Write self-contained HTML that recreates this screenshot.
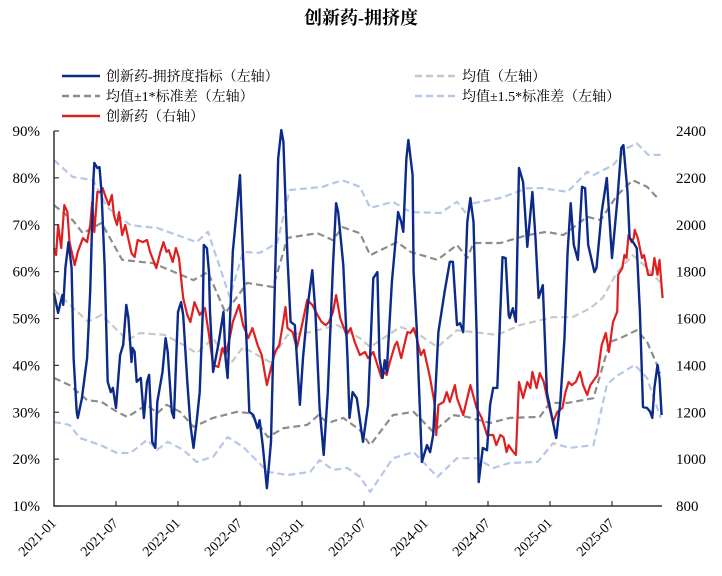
<!DOCTYPE html>
<html><head><meta charset="utf-8">
<style>
html,body{margin:0;padding:0;background:#fff;}
svg{display:block;font-family:"Liberation Serif","Noto Serif CJK SC",serif;}
</style></head>
<body>
<svg id="chart" width="722" height="576" viewBox="0 0 722 576">
<text x="361" y="24" text-anchor="middle" font-size="18" font-weight="bold" font-family="'Liberation Serif','Noto Serif CJK SC',serif">创新药-拥挤度</text>
<g font-size="14">
 <g><line x1="62" y1="76" x2="100" y2="76" stroke="#0b2a8a" stroke-width="2.5"/><text x="106" y="81">创新药-拥挤度指标（左轴）</text></g>
 <g><line x1="415" y1="76" x2="455" y2="76" stroke="#c8c8c8" stroke-width="2.5" stroke-dasharray="7,4"/><text x="462" y="81">均值（左轴）</text></g>
 <g><line x1="62" y1="96" x2="100" y2="96" stroke="#8c8c8c" stroke-width="2.5" stroke-dasharray="7,4"/><text x="106" y="101">均值±1*标准差（左轴）</text></g>
 <g><line x1="415" y1="96" x2="455" y2="96" stroke="#b4c7ea" stroke-width="2.5" stroke-dasharray="7,4"/><text x="462" y="101">均值±1.5*标准差（左轴）</text></g>
 <g><line x1="62" y1="116" x2="100" y2="116" stroke="#e02020" stroke-width="2.5"/><text x="106" y="121">创新药（右轴）</text></g>
</g>
<g id="plot"></g>
</svg>
<script>
const xTickLabels=["2021-01","2021-07","2022-01","2022-07","2023-01","2023-07","2024-01","2024-07","2025-01","2025-07"];
const leftTicks=[10,20,30,40,50,60,70,80,90];
const rightTicks=[800,1000,1200,1400,1600,1800,2000,2200,2400];
// months since 2021-01 / values
const blueT=[0,.4,.8,.9,1.1,1.4,1.7,1.9,2.2,2.3,2.7,3.2,3.5,3.8,3.9,4.2,4.4,4.6,4.9,5.2,5.5,5.7,6.0,6.4,6.7,7.0,7.2,7.5,7.6,7.8,8.0,8.4,8.7,9.0,9.2,9.5,9.8,10.0,10.5,10.8,11.0,11.4,11.6,12.0,12.3,12.5,12.9,13.2,13.5,13.8,14.1,14.4,14.5,14.8,15.0,15.1,15.4,15.9,16.4,16.6,16.8,17.3,18.0,18.3,18.7,18.9,19.3,19.7,19.9,20.2,20.6,21.0,21.4,21.7,22.0,22.2,22.6,22.9,23.3,23.8,24.1,24.6,25.0,25.3,25.7,26.1,26.5,27.0,27.3,27.5,28.0,28.4,28.6,28.9,29.3,29.9,30.4,30.9,31.3,31.5,31.8,32.0,32.2,32.7,33.3,33.6,33.8,34.1,34.3,34.7,34.8,35.1,35.6,36.1,36.4,36.7,37.2,37.8,38.3,38.6,39.0,39.3,39.6,40.0,40.3,40.6,40.9,41.1,41.5,41.9,42.2,42.5,42.9,43.4,43.7,44.0,44.1,44.4,44.7,45.0,45.4,45.8,46.3,46.6,46.9,47.3,47.7,48.2,48.6,49.0,49.4,49.7,50.0,50.3,50.7,51.1,51.4,51.7,52.3,52.5,53.0,53.5,54.0,54.5,54.9,55.1,55.5,55.7,56.1,56.4,56.7,57.0,57.4,57.7,57.9,58.1,58.4,58.6,58.8];
const blueV=[55.4,51.2,55.0,52.9,60.8,66.3,60.8,41.6,30.1,28.8,33.0,41.6,55.7,79.1,83.2,82.1,82.3,77.0,61.4,36.5,34.3,35.2,30.9,42.2,44.4,52.9,50.1,40.7,43.7,42.9,36.5,37.3,28.8,36.5,38.0,23.7,22.4,32.2,38.6,45.8,42.9,30.1,28.8,51.4,53.5,50.7,36.5,27.3,22.4,27.9,34.3,51.4,65.7,65.0,59.9,51.4,38.6,44.4,51.4,41.6,37.3,64.2,80.6,62.9,41.6,30.1,29.4,26.6,28.3,23.0,13.8,23.7,59.3,84.2,90.2,87.7,62.9,49.3,48.6,31.6,41.6,53.5,60.3,51.4,30.9,20.9,34.3,61.4,74.6,72.7,61.4,41.6,28.8,34.3,33.0,23.7,31.6,58.6,59.9,41.6,37.3,41.1,38.6,57.8,72.7,70.6,68.5,84.2,88.1,80.6,59.9,48.0,19.4,23.0,21.5,25.2,47.1,55.7,62.1,62.1,48.6,49.0,47.1,70.6,75.7,70.6,47.1,15.1,22.4,21.9,31.6,35.2,35.2,63.1,62.9,50.7,50.1,52.2,49.3,82.1,79.1,65.3,77.0,67.2,54.4,57.1,34.3,28.8,24.5,32.2,45.8,64.2,74.6,65.7,62.5,78.1,77.8,65.7,59.9,60.8,72.7,80.0,62.9,74.9,86.4,87.0,77.0,67.2,66.1,65.0,51.4,31.1,30.9,30.1,28.8,35.2,40.1,37.3,29.4];
const redT=[0,.2,.4,.7,1.0,1.3,1.5,2.0,2.3,2.8,3.2,3.5,3.7,3.9,4.2,4.5,4.7,5.0,5.3,5.6,5.8,6.1,6.3,6.6,6.9,7.5,7.8,8.1,8.6,9.0,9.3,9.9,10.3,10.6,10.9,11.1,11.5,11.8,12.1,12.5,12.9,13.2,13.6,14.1,14.6,15.0,15.4,15.9,16.3,16.6,17.0,17.3,17.9,18.3,18.8,19.2,19.7,20.1,20.6,21.0,21.4,21.8,22.1,22.4,22.6,23.1,23.5,24.0,24.5,25.0,25.5,25.9,26.3,26.6,27.0,27.3,27.7,28.3,28.7,29.1,29.6,30.1,30.4,30.9,31.3,31.7,31.9,32.2,32.5,33.0,33.2,33.6,33.9,34.2,34.5,34.8,35.1,35.5,35.8,36.4,36.8,37.0,37.2,37.7,38.0,38.3,38.8,39.0,39.6,40.0,40.3,40.9,41.4,41.9,42.5,42.8,43.2,43.5,43.8,44.0,44.3,44.7,45.0,45.4,45.8,46.1,46.3,46.7,47.0,47.4,47.8,48.3,48.7,49.2,49.5,49.8,50.1,50.5,50.9,51.2,51.6,51.9,52.6,53.0,53.4,53.7,54.1,54.5,54.6,55.0,55.2,55.4,55.6,55.9,56.1,56.2,56.5,56.9,57.1,57.5,57.9,58.1,58.4,58.6,58.9];
const redV=[1901,1871,1999,1901,2084,2054,1926,1828,1884,1943,1926,1999,2097,1969,2140,2140,2157,2118,2084,2127,2042,1999,2054,1956,1999,1879,1862,1935,1926,1935,1884,1815,1884,1926,1884,1892,1841,1901,1858,1687,1615,1585,1670,1615,1645,1530,1402,1393,1474,1444,1517,1585,1658,1572,1517,1559,1487,1444,1316,1389,1457,1487,1564,1649,1559,1542,1474,1572,1679,1658,1615,1585,1572,1585,1628,1700,1602,1530,1559,1500,1444,1457,1431,1457,1402,1346,1372,1359,1414,1487,1500,1431,1487,1542,1538,1559,1517,1444,1466,1346,1244,1103,1231,1244,1286,1244,1316,1261,1188,1261,1316,1218,1175,1103,1103,1060,1103,1094,1030,1060,1039,1018,1329,1261,1329,1303,1372,1303,1367,1329,1244,1158,1201,1218,1286,1329,1316,1329,1372,1316,1274,1316,1359,1487,1538,1457,1585,1628,1786,1815,1871,1858,1956,1926,1943,1978,1943,1858,1871,1786,1786,1858,1786,1850,1687];
const meanT=[0,3.3,4.6,7.1,8.3,10.7,12.5,13.8,15.4,17.0,18.3,20.9,22.6,24.8,27.4,29.6,30.6,33.5,35.1,37.1,39.0,42.9,45.1,48.3,50.2,51.9,53.1,54.5,56.0,57.4,58.7];
const meanV=[56.1,49.3,50.8,45.4,46.9,46.5,44.4,42.6,45.8,40.1,43.9,40.7,46.5,47.1,48.6,45.8,43.9,48.2,46.9,43.9,47.5,46.5,48.6,50.3,50.3,52.2,54.4,59.9,63.5,60.8,57.6];
const up1T=[0,1.8,2.8,4.6,6.6,9.6,13.5,14.9,16.6,18.7,21.2,22.6,25.5,27.0,27.9,29.6,30.6,33.2,34.5,37.1,39.0,40.0,40.6,43.2,45.8,47.7,49.3,51.6,52.9,54.5,56.0,57.4,58.4];
const up1V=[74.2,71.0,68.2,70.4,62.5,61.8,58.2,59.9,51.2,57.6,56.7,67.2,68.2,66.7,69.5,68.2,63.5,66.3,64.2,62.5,65.7,62.9,66.1,66.1,67.8,68.5,67.8,71.7,71.0,76.3,79.5,78.1,75.7];
const lo1T=[0,1.5,3.2,4.6,6.1,7.1,9.0,10.0,10.9,12.2,13.5,15.4,17.7,19.0,20.7,22.2,24.5,25.6,26.5,28.0,29.6,30.6,32.8,34.8,36.7,38.6,40.0,42.2,44.1,47.0,48.0,49.7,52.2,53.8,54.8,56.4,57.4,58.7];
const lo1V=[37.3,35.8,32.6,32.2,30.1,29.0,31.6,29.8,31.6,30.1,26.9,28.8,30.1,29.8,24.7,26.6,27.3,29.4,27.7,28.8,26.2,23.0,29.4,30.1,25.8,29.4,29.0,27.7,28.8,29.0,32.0,32.0,33.0,45.0,45.8,47.5,45.0,38.4];
const up15T=[0,1.8,3.8,5.1,7.4,10.0,13.8,14.9,17.0,18.3,19.9,21.6,22.8,26.0,27.9,29.6,30.6,32.8,34.5,37.4,39.0,40.0,40.6,43.2,45.8,47.3,49.7,51.6,52.2,54.1,55.5,56.4,57.5,58.7];
const up15V=[83.8,80.2,79.5,73.8,69.9,69.3,66.3,68.5,54.6,64.2,64.0,66.1,77.4,78.1,79.5,78.1,73.6,74.9,72.7,72.5,74.9,72.1,74.6,75.7,77.8,77.8,77.0,81.3,80.6,82.7,86.4,87.4,84.9,84.9];
const lo15T=[0,1.5,2.5,4.5,6.1,7.4,9.0,10.0,11.0,12.5,13.8,15.4,16.8,18.3,20.7,22.6,24.8,25.7,27.0,28.4,29.6,30.6,32.8,34.8,37.1,39.0,40.9,42.5,44.1,46.8,48.3,49.9,52.2,53.5,54.3,56.2,57.4,58.7];
const lo15V=[27.9,27.3,24.5,23.0,21.3,21.3,24.1,22.0,23.7,22.0,19.4,20.5,24.7,22.6,17.3,16.6,17.3,19.8,17.7,18.1,16.2,13.0,20.2,21.5,16.2,20.2,20.2,18.1,19.2,19.4,23.4,22.4,23.0,35.8,37.5,40.1,37.3,28.8];

const X0=54,MPX=62/6,YT=131,YB=506;
const xS=m=>X0+m*MPX;
const yL=v=>YB-(v-10)/80*(YB-YT);
const yR=v=>YB-(v-800)/1600*(YB-YT);
const NS="http://www.w3.org/2000/svg";
const plot=document.getElementById('plot');
function mk(tag,attrs,parent){const e=document.createElementNS(NS,tag);for(const k in attrs)e.setAttribute(k,attrs[k]);(parent||plot).appendChild(e);return e;}

function line(T,V,ys,stroke,dash,w,name){
  const d=T.map((t,i)=>(i?'L':'M')+xS(t).toFixed(1)+','+ys(V[i]).toFixed(1)).join('');
  const p=mk('path',{d:d,fill:'none',stroke:stroke,'stroke-width':w,'stroke-linejoin':'round'});
  if(dash)p.setAttribute('stroke-dasharray',dash);
  
  
}
line(lo15T,lo15V,yL,'#b4c7ea','7,4',2.2,'series-mean-minus-1.5sd');
line(up15T,up15V,yL,'#b4c7ea','7,4',2.2,'series-mean-plus-1.5sd');
line(lo1T,lo1V,yL,'#8c8c8c','7,4',2.2,'series-mean-minus-1sd');
line(up1T,up1V,yL,'#8c8c8c','7,4',2.2,'series-mean-plus-1sd');
line(meanT,meanV,yL,'#c8c8c8','7,4',2.2,'series-mean');
line(redT,redV,yR,'#e02020',null,2.2,'series-innovative-drug-index');
line(blueT,blueV,yL,'#0b2a8a',null,2.4,'series-crowding-indicator');

// axes
const ax=mk('path',{d:`M${X0},${YT}L${X0},${YB}L662,${YB}`,fill:'none',stroke:'#333','stroke-width':1.5});


leftTicks.forEach(v=>{
  const y=yL(v);
  mk('line',{x1:X0,y1:y,x2:X0+5,y2:y,stroke:'#333','stroke-width':1.2});
  const t=mk('text',{x:40,y:y+5,'text-anchor':'end','font-size':15});
  t.textContent=v+'%';
  
  
});
rightTicks.forEach(v=>{
  const y=yR(v);
  const t=mk('text',{x:676,y:y+5,'text-anchor':'start','font-size':15});
  t.textContent=v;
  
  
});
xTickLabels.forEach((lab,i)=>{
  const x=xS(i*6);
  if(i>0) mk('line',{x1:x,y1:YB,x2:x,y2:YB-5,stroke:'#333','stroke-width':1.2});
  const t=mk('text',{x:x+3,y:YB+18,'text-anchor':'end','font-size':14,transform:`rotate(-45 ${x+3} ${YB+18})`});
  t.textContent=lab;
  
  
});
</script>
</body></html>
